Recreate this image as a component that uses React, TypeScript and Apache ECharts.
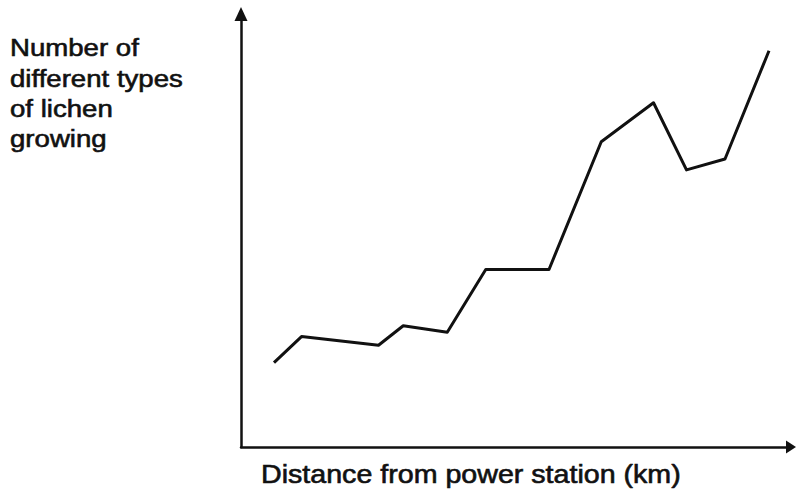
import React, { useEffect, useRef } from "react";
import * as echarts from "echarts";

// Distance from power station (arbitrary units, no tick labels in the original)
const distances = [1.2, 2.2, 5.0, 5.9, 7.5, 8.9, 11.2, 13.1, 15.0, 16.2, 17.6, 19.2];
// Number of different types of lichen growing
const lichenTypes = [3.9, 5.1, 4.7, 5.6, 5.3, 8.2, 8.2, 14.1, 15.9, 12.8, 13.3, 18.3];

const yTitleLines = ["Number of", "different types", "of lichen", "growing"];
const xTitle = "Distance from power station (km)";

export default function App() {
  const ref = useRef<HTMLDivElement>(null);

  useEffect(() => {
    if (!ref.current) return;
    const chart = echarts.init(ref.current, null, { renderer: "svg" });
    const axisColor = "#111";
    chart.setOption({
      animation: false,
      backgroundColor: "#ffffff",
      grid: { left: 241, right: 7, top: 14, bottom: 42, containLabel: false },
      xAxis: {
        type: "value",
        min: 0,
        max: 20,
        axisLine: {
          show: true,
          symbol: ["none", "triangle"],
          symbolSize: [13, 10],
          lineStyle: { color: axisColor, width: 2.5 },
        },
        axisTick: { show: false },
        axisLabel: { show: false },
        splitLine: { show: false },
      },
      yAxis: {
        type: "value",
        min: 0,
        max: 20,
        axisLine: {
          show: true,
          symbol: ["none", "triangle"],
          symbolSize: [13, 14],
          lineStyle: { color: axisColor, width: 2.5 },
        },
        axisTick: { show: false },
        axisLabel: { show: false },
        splitLine: { show: false },
      },
      series: [
        {
          type: "line",
          data: distances.map((d, i) => [d, lichenTypes[i]]),
          symbol: "none",
          smooth: false,
          lineStyle: { color: "#111", width: 3, join: "round" },
        },
      ],
      graphic: [
        {
          type: "text",
          x: 10,
          y: 33,
          scaleX: 1.15,
          style: {
            text: yTitleLines.join("\n"),
            font: "24px 'Liberation Sans', Arial, sans-serif",
            fill: "#111",
            stroke: "#111",
            lineWidth: 0.6,
            lineHeight: 30.3,
            verticalAlign: "top",
            align: "left",
          },
        },
        {
          type: "text",
          x: 261,
          y: 462,
          scaleX: 1.145,
          style: {
            text: xTitle,
            font: "25px 'Liberation Sans', Arial, sans-serif",
            fill: "#111",
            stroke: "#111",
            lineWidth: 0.6,
            verticalAlign: "top",
            align: "left",
          },
        },
      ],
    });
    return () => chart.dispose();
  }, []);

  return <div ref={ref} style={{ width: 798, height: 489, position: "fixed", left: 0, top: 0 }} />;
}
